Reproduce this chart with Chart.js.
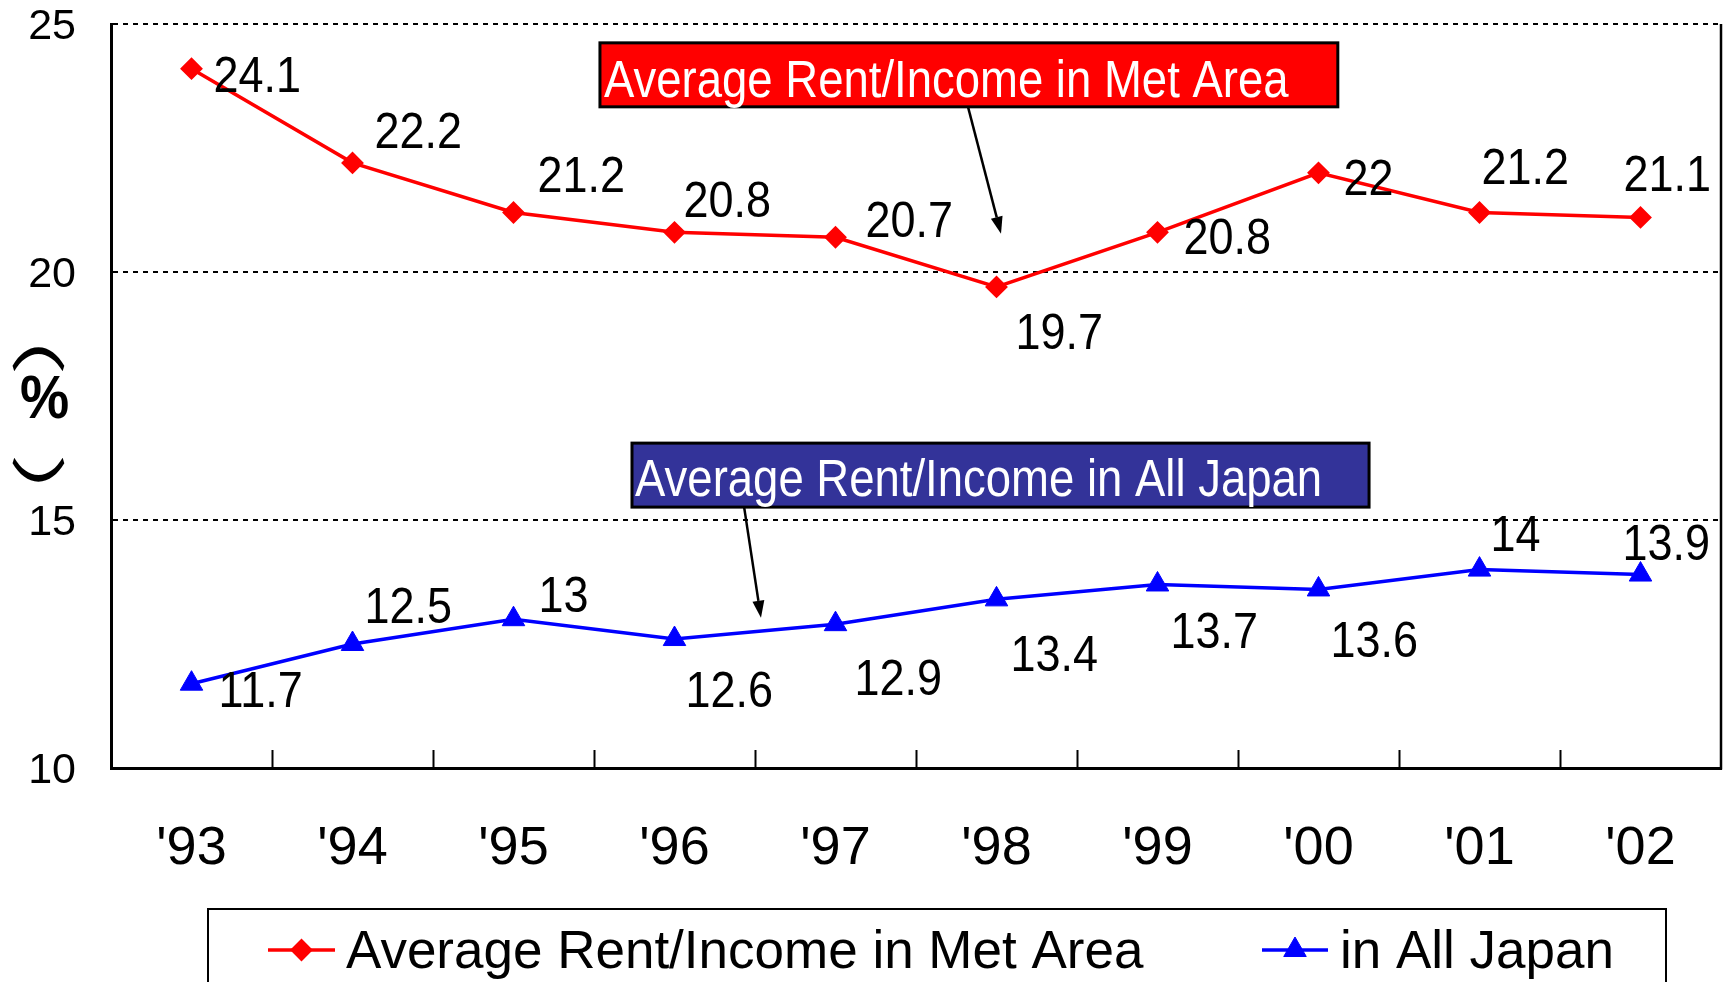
<!DOCTYPE html>
<html><head><meta charset="utf-8">
<script src="https://cdn.jsdelivr.net/npm/chart.js@4.4.1/dist/chart.umd.min.js"></script>
<style>html,body{margin:0;padding:0;background:#fff}#wrap{width:1734px;height:982px;position:relative}</style>
</head><body><div id="wrap"><canvas id="c" width="1734" height="982"></canvas></div>
<script>
// ---- data ----
const years = ["'93","'94","'95","'96","'97","'98","'99","'00","'01","'02"];
const metArea = [24.1, 22.2, 21.2, 20.8, 20.7, 19.7, 20.8, 22, 21.2, 21.1];
const allJapan = [11.7, 12.5, 13, 12.6, 12.9, 13.4, 13.7, 13.6, 14, 13.9];
const yMin = 10, yMax = 25, yStep = 5;
const seriesNames = ['Average Rent/Income in Met Area', 'in All Japan'];
const calloutTexts = ['Average Rent/Income in Met Area', 'Average Rent/Income in All Japan'];
const yTitleParts = ['\uFE35', '%', '\uFE36'];

// ---- label placement (pixel offsets from each point: left edge, vertical centre) ----
const metLabelDx = [22, 22, 24, 9, 30, 19, 26, 25, 2, -17];
const metLabelDy = [5, -33, -39, -33, -18, 44, 4, 4, -47, -44];
const japanLabelDx = [27, 12, 25, 11, 19, 14, 13, 12, 11, -18];
const japanLabelDy = [5, -39, -25, 50, 53, 54, 45, 50, -37, -33];

const SANS = '"Liberation Sans", Arial, sans-serif';

// callouts placed in data space (fractional category index, value)
const callouts = [
  {text: calloutTexts[0], fill: '#FF0000', box: [2.537, 24.62, 7.12, 23.33], textAt: [2.562, 23.53], arrow: [4.823, 23.33, 5.028, 20.77]},
  {text: calloutTexts[1], fill: '#333399', box: [2.736, 16.55, 7.314, 15.26], textAt: [2.755, 15.48], arrow: [3.432, 15.27, 3.537, 13.03]}
];

function drawTallText(ctx, text, x, baseline, k) {
  ctx.save();
  ctx.translate(x, baseline);
  ctx.scale(1, k);
  ctx.fillText(text, 0, 0);
  ctx.restore();
}

function drawFit(ctx, text, font, cx, cy, w, h) {
  ctx.save();
  ctx.font = font;
  ctx.textAlign = 'left';
  ctx.textBaseline = 'alphabetic';
  const m = ctx.measureText(text);
  const iw = m.actualBoundingBoxLeft + m.actualBoundingBoxRight;
  const ih = m.actualBoundingBoxAscent + m.actualBoundingBoxDescent;
  const sx = w / iw, sy = h / ih;
  ctx.translate(cx, cy);
  ctx.scale(sx, sy);
  const ox = -(m.actualBoundingBoxRight - m.actualBoundingBoxLeft) / 2;
  const oy = (m.actualBoundingBoxAscent - m.actualBoundingBoxDescent) / 2;
  ctx.fillText(text, ox, oy);
  ctx.restore();
}

const decorPlugin = {
  id: 'decor',
  beforeDatasetsDraw(chart) {
    const {ctx, chartArea: a, scales: {x}} = chart;
    ctx.save();
    ctx.strokeStyle = '#000';
    ctx.lineWidth = 2.5;
    ctx.beginPath(); ctx.moveTo(a.right, a.top); ctx.lineTo(a.right, a.bottom + 1.5); ctx.stroke();
    ctx.lineWidth = 2;
    for (let i = 1; i < years.length; i++) {
      const px = Math.round(x.getPixelForValue(i - 0.5)) + 0.5;
      ctx.beginPath(); ctx.moveTo(px, a.bottom); ctx.lineTo(px, a.bottom - 18); ctx.stroke();
    }
    ctx.restore();
  },
  afterDatasetsDraw(chart) {
    const {ctx, scales: {x, y}} = chart;
    ctx.save();
    const fs = 45, k = 1.12;
    ctx.font = fs + 'px ' + SANS;
    ctx.fillStyle = '#000';
    ctx.textAlign = 'left';
    ctx.textBaseline = 'alphabetic';
    const half = 0.716 * fs * k / 2;
    const sets = [[metArea, metLabelDx, metLabelDy], [allJapan, japanLabelDx, japanLabelDy]];
    sets.forEach(([vals, dx, dy]) => {
      vals.forEach((v, i) => {
        const px = x.getPixelForValue(i), py = y.getPixelForValue(v);
        drawTallText(ctx, String(v), px + dx[i], py + dy[i] + half, k);
      });
    });
    callouts.forEach(c => {
      const x1 = x.getPixelForValue(c.box[0]), y1 = y.getPixelForValue(c.box[1]);
      const x2 = x.getPixelForValue(c.box[2]), y2 = y.getPixelForValue(c.box[3]);
      ctx.fillStyle = c.fill;
      ctx.fillRect(x1, y1, x2 - x1, y2 - y1);
      ctx.strokeStyle = '#000'; ctx.lineWidth = 3;
      ctx.strokeRect(x1, y1, x2 - x1, y2 - y1);
      ctx.fillStyle = '#fff';
      ctx.font = '45.5px ' + SANS;
      drawTallText(ctx, c.text, x.getPixelForValue(c.textAt[0]), y.getPixelForValue(c.textAt[1]), 1.13);
      const ax = x.getPixelForValue(c.arrow[0]), ay = y.getPixelForValue(c.arrow[1]);
      const bx = x.getPixelForValue(c.arrow[2]), by = y.getPixelForValue(c.arrow[3]);
      const ang = Math.atan2(by - ay, bx - ax);
      const hl = 17, hw = 6;
      const hx = bx - hl * Math.cos(ang), hy = by - hl * Math.sin(ang);
      ctx.strokeStyle = '#000'; ctx.lineWidth = 2.5;
      ctx.beginPath(); ctx.moveTo(ax, ay); ctx.lineTo(hx, hy); ctx.stroke();
      ctx.fillStyle = '#000';
      ctx.beginPath();
      ctx.moveTo(bx, by);
      ctx.lineTo(hx + hw * Math.sin(ang), hy - hw * Math.cos(ang));
      ctx.lineTo(hx - hw * Math.sin(ang), hy + hw * Math.cos(ang));
      ctx.closePath(); ctx.fill();
    });
    ctx.restore();
  },
  afterDraw(chart) {
    const {ctx} = chart;
    ctx.save();
    ctx.fillStyle = '#000';
    drawFit(ctx, yTitleParts[0], '80px "Noto Sans CJK JP"', 38.5, 360, 53, 24);
    drawFit(ctx, yTitleParts[1], 'bold 60px ' + SANS, 44.5, 397, 47, 44);
    drawFit(ctx, yTitleParts[2], '80px "Noto Sans CJK JP"', 38.5, 469.5, 53, 24);
    ctx.strokeStyle = '#000'; ctx.lineWidth = 2;
    ctx.strokeRect(208, 909, 1458, 120);
    const items = [{lx: 268, rx: 335, tx: 346}, {lx: 1262, rx: 1328, tx: 1340}];
    const ly = 950;
    chart.data.datasets.forEach((ds, i) => {
      const it = items[i];
      ctx.strokeStyle = ds.borderColor; ctx.lineWidth = 3.5;
      ctx.beginPath(); ctx.moveTo(it.lx, ly); ctx.lineTo(it.rx, ly); ctx.stroke();
      ctx.fillStyle = ds.pointBackgroundColor; ctx.strokeStyle = ds.pointBorderColor; ctx.lineWidth = ds.pointBorderWidth;
      Chart.helpers.drawPoint(ctx, {pointStyle: ds.pointStyle, radius: ds.pointRadius, rotation: 0, borderWidth: ds.pointBorderWidth}, (it.lx + it.rx) / 2, ly);
      ctx.fillStyle = '#000';
      ctx.font = '53px ' + SANS;
      ctx.textAlign = 'left'; ctx.textBaseline = 'alphabetic';
      ctx.fillText(ds.label, it.tx, 968);
    });
    ctx.restore();
  }
};

new Chart(document.getElementById('c'), {
  type: 'line',
  data: {
    labels: years,
    datasets: [
      {label: seriesNames[0], data: metArea, borderColor: '#FF0000', borderWidth: 3.5,
       pointStyle: 'rectRot', pointRadius: 10, pointBackgroundColor: '#FF0000', pointBorderColor: '#FF0000', pointBorderWidth: 2,
       tension: 0, fill: false, clip: false},
      {label: seriesNames[1], data: allJapan, borderColor: '#0000FF', borderWidth: 3.5,
       pointStyle: 'triangle', pointRadius: 13, pointBackgroundColor: '#0000FF', pointBorderColor: '#0000FF', pointBorderWidth: 1,
       tension: 0, fill: false, clip: false}
    ]
  },
  options: {
    responsive: false,
    animation: false,
    devicePixelRatio: 1,
    layout: {autoPadding: false, padding: {left: 0, right: 13, top: 24, bottom: 0}},
    plugins: {legend: {display: false}, tooltip: {enabled: false}, title: {display: false}},
    scales: {
      x: {
        type: 'category', offset: true,
        grid: {display: false, drawTicks: false},
        border: {display: true, color: '#000', width: 3},
        ticks: {color: '#000', font: {family: SANS, size: 54}, padding: 49, maxRotation: 0, autoSkip: false},
        afterFit(s) { s.height = 214; s.paddingLeft = 0; s.paddingRight = 0; }
      },
      y: {
        min: yMin, max: yMax,
        grid: {color: '#000', lineWidth: 2, drawTicks: false},
        border: {display: true, color: '#000', width: 3, dash: [5, 5]},
        ticks: {stepSize: yStep, color: '#000', font: {family: SANS, size: 43}, padding: 35, labelOffset: 3},
        afterFit(s) { s.width = 111; s.paddingTop = 0; s.paddingBottom = 0; }
      }
    }
  },
  plugins: [decorPlugin]
});
</script></body></html>
